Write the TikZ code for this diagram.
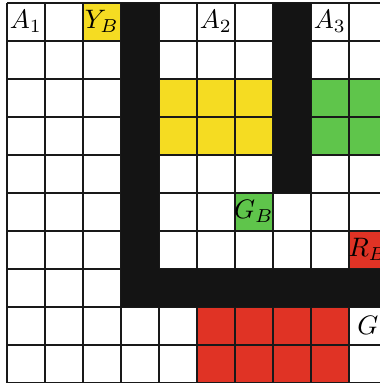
\documentclass[tikz,border=0pt]{standalone}
\usepackage{xcolor}
\definecolor{celly}{HTML}{F5DC22}
\definecolor{cellg}{HTML}{5FC54B}
\definecolor{cellr}{HTML}{E03325}
\definecolor{wallk}{HTML}{141414}
\tikzset{
  wall/.style    = {fill=wallk},
  gridline/.style= {draw=black!90, line width=0.75pt},
  cellname/.style= {inner sep=0pt, anchor=center},
}

\begin{document}
\begin{tikzpicture}[x=0.5cm, y=0.5cm]
  \useasboundingbox (-0.18,0.07) rectangle (9.82,-10.01);

  % coloured cells (column/row/colour)
  \foreach \c/\r/\col in {
      2/0/celly,
      4/2/celly, 5/2/celly, 6/2/celly,
      4/3/celly, 5/3/celly, 6/3/celly,
      8/2/cellg, 9/2/cellg, 8/3/cellg, 9/3/cellg,
      6/5/cellg,
      9/6/cellr,
      5/8/cellr, 6/8/cellr, 7/8/cellr, 8/8/cellr,
      5/9/cellr, 6/9/cellr, 7/9/cellr, 8/9/cellr}{
    \fill[\col] (\c,-\r) rectangle ++(1,-1);
  }

  % grid
  \draw[gridline, step=1] (0,0) grid (10,-10);

  % walls
  \fill[wall] (3,0) rectangle (4,-8);
  \fill[wall] (4,-7) rectangle (10,-8);
  \fill[wall] (7,0) rectangle (8,-5);

  % labels
  \node[cellname] (a1) at (0.5,-0.5) {$A_1$};
  \node[cellname] (yb) at (2.5,-0.5) {$Y_B$};
  \node[cellname] (a2) at (5.5,-0.5) {$A_2$};
  \node[cellname] (a3) at (8.5,-0.5) {$A_3$};
  \node[cellname] (gb) at (6.5,-5.5) {$G_B$};
  \node[cellname] (rb) at (9.5,-6.5) {$R_B$};
  \node[cellname] (g)  at (9.5,-8.5) {$G$};
\end{tikzpicture}
\end{document}
